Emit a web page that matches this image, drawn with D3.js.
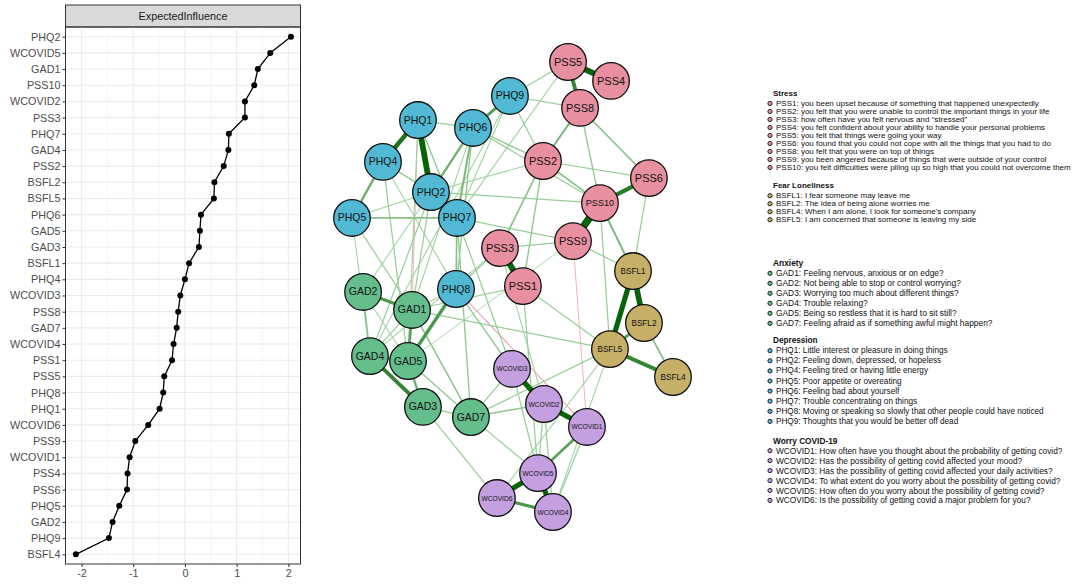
<!DOCTYPE html>
<html><head><meta charset="utf-8">
<script src="https://cdn.jsdelivr.net/npm/d3@7"></script>
<style>body{margin:0;background:#fff}svg{display:block}text{font-family:"Liberation Sans",Arial,sans-serif}</style>
</head><body><svg id="c" width="1084" height="584"></svg>
<script>
// ---------- Expected influence (left panel) ----------
const eiNodes = ["PHQ2","WCOVID5","GAD1","PSS10","WCOVID2","PSS3","PHQ7","GAD4","PSS2","BSFL2","BSFL5","PHQ6","GAD5","GAD3","BSFL1","PHQ4","WCOVID3","PSS8","GAD7","WCOVID4","PSS1","PSS5","PHQ8","PHQ1","WCOVID6","PSS9","WCOVID1","PSS4","PSS6","PHQ5","GAD2","PHQ9","BSFL4"];
const eiValues = [2.05,1.65,1.41,1.34,1.16,1.16,0.85,0.84,0.75,0.57,0.56,0.31,0.29,0.27,0.08,0.00,-0.09,-0.13,-0.16,-0.22,-0.25,-0.40,-0.42,-0.49,-0.71,-0.96,-1.07,-1.11,-1.12,-1.27,-1.40,-1.47,-2.11];
const xTicks = [-2,-1,0,1,2];
const xMinor = [-1.5,-0.5,0.5,1.5];
const stripLabel = "ExpectedInfluence";

// ---------- Network ----------
const nodeIds  = ["PSS5","PSS4","PHQ9","PSS8","PHQ1","PHQ6","PHQ4","PSS2","PSS6","PHQ2","PSS10","PHQ5","PHQ7","PSS9","PSS3","BSFL1","PSS1","PHQ8","GAD2","GAD1","BSFL2","BSFL5","GAD4","GAD5","WCOVID3","BSFL4","WCOVID2","GAD3","GAD7","WCOVID1","WCOVID5","WCOVID6","WCOVID4"];
const nodeGroup = [0,0,3,0,3,3,3,0,0,3,0,3,3,0,0,1,0,3,2,2,1,1,2,2,4,1,4,2,2,4,4,4,4];
const layoutX = [0.346,0.614,-0.016,0.421,-0.589,-0.246,-0.807,0.190,0.850,-0.508,0.545,-1.000,-0.346,0.377,-0.078,0.751,0.065,-0.352,-0.931,-0.626,0.819,0.607,-0.888,-0.651,-0.003,1.000,0.196,-0.558,-0.259,0.464,0.159,-0.097,0.252];
const layoutY = [1.000,0.916,0.849,0.796,0.742,0.707,0.556,0.560,0.484,0.422,0.373,0.307,0.307,0.204,0.173,0.071,0.004,-0.009,-0.022,-0.102,-0.160,-0.276,-0.307,-0.329,-0.364,-0.400,-0.520,-0.533,-0.578,-0.622,-0.827,-0.938,-1.000];
const edges = [
 ["PSS5","PSS4",0.34],["PSS5","PSS8",0.22],["PSS10","PSS9",0.45],["PSS10","PSS6",0.24],["PSS3","PSS1",0.36],
 ["PHQ1","PHQ2",0.34],["PHQ1","PHQ4",0.26],["BSFL1","BSFL5",0.30],["BSFL1","BSFL2",0.33],["BSFL5","BSFL4",0.22],
 ["BSFL2","BSFL5",0.16],["BSFL2","BSFL4",0.08],["WCOVID3","WCOVID2",0.30],["WCOVID2","WCOVID1",0.30],["WCOVID5","WCOVID6",0.30],
 ["WCOVID5","WCOVID4",0.30],["WCOVID6","WCOVID4",0.18],["WCOVID1","WCOVID5",0.15],["GAD2","GAD1",0.18],["GAD1","GAD5",0.15],
 ["GAD4","GAD3",0.22],["GAD5","GAD3",0.12],["GAD3","GAD7",0.06],["PHQ8","GAD5",0.18],["PHQ9","PHQ6",0.16],
 ["PHQ2","PHQ6",0.12],["PHQ7","PHQ6",0.10],["PHQ4","PHQ5",0.12],["PHQ4","PHQ2",0.06],["PSS2","PSS8",0.10],
 ["PSS10","BSFL1",0.10],["PSS6","BSFL1",0.05],["PSS8","PSS6",0.07],["PSS8","PSS10",0.06],["PHQ9","PSS8",0.05],
 ["PHQ9","PSS5",0.05],["PHQ9","PSS2",0.05],["PSS2","PSS6",0.05],["PSS2","PSS10",0.08],["PSS2","PSS3",0.08],
 ["PSS2","PSS1",0.06],["PHQ6","PSS2",0.06],["PHQ6","PSS10",0.05],["PHQ1","PHQ6",0.05],["PHQ1","PHQ7",0.06],
 ["PHQ2","PHQ7",0.08],["PHQ5","PHQ7",0.08],["PHQ5","PHQ2",0.04],["PHQ5","GAD1",0.05],["PHQ5","GAD4",0.04],
 ["PHQ2","PSS10",0.05],["PHQ2","PSS2",0.04],["PHQ7","PHQ8",0.08],["PHQ7","PSS9",0.05],["PHQ7","WCOVID3",0.05],
 ["PHQ7","GAD7",0.06],["PHQ4","GAD5",0.05],["PHQ4","PHQ8",0.04],["PHQ8","GAD1",0.05],["PHQ8","PSS3",0.05],
 ["PHQ8","WCOVID3",0.06],["PHQ8","WCOVID1",-0.04],["PHQ1","GAD1",-0.03],["PSS9","WCOVID1",-0.03],["PSS9","BSFL1",0.05],
 ["PSS9","PSS3",0.05],["PSS1","BSFL5",0.05],["GAD1","BSFL5",0.05],["BSFL5","GAD7",0.05],["BSFL5","WCOVID6",0.04],
 ["BSFL5","WCOVID4",0.04],["PSS1","WCOVID5",0.05],["GAD4","GAD2",0.07],["GAD4","GAD5",0.10],["GAD4","GAD1",0.05],
 ["GAD2","GAD5",0.04],["GAD7","GAD5",0.06],["GAD7","WCOVID2",0.07],["GAD7","WCOVID3",0.05],["GAD7","WCOVID5",0.05],
 ["GAD3","WCOVID6",0.05],["GAD1","GAD7",0.07],["GAD2","PHQ2",0.04],["WCOVID3","WCOVID5",0.05],["WCOVID2","WCOVID5",0.05],
 ["WCOVID2","WCOVID4",0.05],["WCOVID1","WCOVID4",0.05],["PHQ6","PHQ8",0.06],["PHQ2","GAD4",0.05],["PHQ2","GAD1",0.05],
 ["PHQ9","PHQ7",0.04],["PHQ9","GAD4",0.04],["PSS5","PHQ7",0.04],["PSS3","GAD4",0.04],["PSS10","BSFL5",0.05],
 ["PSS3","WCOVID2",0.04],["PHQ6","GAD1",0.04],["PSS1","GAD1",0.04],["PHQ1","GAD5",0.04],["PSS9","GAD5",0.03]
];

// ---------- Legend ----------
const groupNames = ["Stress","Fear Loneliness","Anxiety","Depression","Worry COVID-19"];
const groupColors = ["#E8909F","#C6AF66","#64BE8C","#52B9D4","#C4A0E0"];
const legendStress = ["PSS1: you been upset because of something that happened unexpectedly","PSS2: you felt that you were unable to control the important things in your life","PSS3: how often have you felt nervous and \u201cstressed\u201d","PSS4: you felt confident about your ability to handle your personal problems","PSS5: you felt that things were going your way","PSS6: you found that you could not cope with all the things that you had to do","PSS8: you felt that you were on top of things","PSS9: you been angered because of things that were outside of your control","PSS10: you felt difficulties were piling up so high that you could not overcome them"];
const legendFear = ["BSFL1: I fear someone may leave me","BSFL2: The idea of being alone worries me","BSFL4: When I am alone, I look for someone's company","BSFL5: I am concerned that someone is leaving my side"];
const legendAnxiety = ["GAD1: Feeling nervous, anxious or on edge?","GAD2: Not being able to stop or control worrying?","GAD3: Worrying too much about different things?","GAD4: Trouble relaxing?","GAD5: Being so restless that it is hard to sit still?","GAD7: Feeling afraid as if something awful might happen?"];
const legendDepression = ["PHQ1: Little interest or pleasure in doing things","PHQ2: Feeling down, depressed, or hopeless","PHQ4: Feeling tired or having little energy","PHQ5: Poor appetite or overeating","PHQ6: Feeling bad about yourself","PHQ7: Trouble concentrating on things","PHQ8: Moving or speaking so slowly that other people could have noticed","PHQ9: Thoughts that you would be better off dead"];
const legendCovid = ["WCOVID1: How often have you thought about the probability of getting covid?","WCOVID2: Has the possibility of getting covid affected your mood?","WCOVID3: Has the possibility of getting covid affected your daily activities?","WCOVID4: To what extent do you worry about the possibility of getting covid?","WCOVID5: How often do you worry about the possibility of getting covid?","WCOVID6: Is the possibility of getting covid a major problem for you?"];
const legendItems = [legendStress, legendFear, legendAnxiety, legendDepression, legendCovid];

const svg = d3.select("#c");

// ================= LEFT PANEL =================
const pL = 65.5, pR = 300.5, pT = 27, pB = 564;
const x = d3.scaleLinear().domain([-2.31, 2.235]).range([pL, pR]);
const y = d3.scalePoint().domain(eiNodes).range([pT, pB]).padding(0.6);
const gL = svg.append("g");
gL.append("rect").attr("x", pL).attr("y", 5).attr("width", pR - pL).attr("height", pT - 5)
  .attr("fill", "#d9d9d9").attr("stroke", "#333").attr("stroke-width", 1);
gL.append("text").attr("x", (pL + pR) / 2).attr("y", 16).attr("text-anchor", "middle")
  .attr("dominant-baseline", "central").attr("font-size", 10.8).attr("fill", "#1a1a1a").text(stripLabel);
gL.append("g").selectAll("line").data(xMinor).join("line")
  .attr("x1", d => x(d)).attr("x2", d => x(d)).attr("y1", pT).attr("y2", pB)
  .attr("stroke", "#f0f0f0").attr("stroke-width", 0.7);
gL.append("g").selectAll("line").data(xTicks).join("line")
  .attr("x1", d => x(d)).attr("x2", d => x(d)).attr("y1", pT).attr("y2", pB)
  .attr("stroke", "#ebebeb").attr("stroke-width", 1.1);
gL.append("g").selectAll("line").data(eiNodes).join("line")
  .attr("x1", pL).attr("x2", pR).attr("y1", d => y(d)).attr("y2", d => y(d))
  .attr("stroke", "#ebebeb").attr("stroke-width", 1.1);
const pts = eiNodes.map((n, i) => [x(eiValues[i]), y(n)]);
gL.append("path").attr("d", d3.line()(pts)).attr("fill", "none").attr("stroke", "#000").attr("stroke-width", 1.3);
gL.append("g").selectAll("circle").data(pts).join("circle")
  .attr("cx", d => d[0]).attr("cy", d => d[1]).attr("r", 3).attr("fill", "#000");
gL.append("rect").attr("x", pL).attr("y", pT).attr("width", pR - pL).attr("height", pB - pT)
  .attr("fill", "none").attr("stroke", "#333").attr("stroke-width", 1);
const ax = gL.append("g").attr("transform", `translate(0,${pB})`)
  .call(d3.axisBottom(x).tickValues(xTicks).tickSize(3).tickPadding(2).tickFormat(d3.format("d")));
const ay = gL.append("g").attr("transform", `translate(${pL},0)`)
  .call(d3.axisLeft(y).tickSize(3).tickPadding(2));
[ax, ay].forEach(a => {
  a.select(".domain").remove();
  a.selectAll(".tick line").attr("stroke", "#333").attr("stroke-width", 1);
  a.selectAll(".tick text").attr("fill", "#4d4d4d").attr("font-size", 10.8)
    .attr("font-family", '"Liberation Sans",Arial,sans-serif');
});
ax.selectAll(".tick text").text(d => d < 0 ? "-" + Math.abs(d) : d);

// ================= NETWORK =================
const nx = d3.scaleLinear().domain([-1, 1]).range([352, 673]);
const ny = d3.scaleLinear().domain([-1, 1]).range([512, 62]);
const idx = new Map(nodeIds.map((n, i) => [n, i]));
const posC = d3.scaleLinear().domain([0.03, 0.3]).range([0, 1]).clamp(true);
const posColor = t => d3.interpolateRgb("#a3d6a3", "#056405")(t);
const negColor = t => d3.interpolateRgb("#eeaab4", "#c0102a")(t);
const wScale = d3.scaleLinear().domain([0.03, 0.45]).range([0.9, 7.5]).clamp(true);
const gN = svg.append("g");
const sorted = edges.slice().sort((a, b) => Math.abs(a[2]) - Math.abs(b[2]));
gN.append("g").selectAll("line").data(sorted).join("line")
  .attr("x1", d => nx(layoutX[idx.get(d[0])])).attr("y1", d => ny(layoutY[idx.get(d[0])]))
  .attr("x2", d => nx(layoutX[idx.get(d[1])])).attr("y2", d => ny(layoutY[idx.get(d[1])]))
  .attr("stroke", d => d[2] > 0 ? posColor(posC(d[2])) : negColor(posC(-d[2])))
  .attr("stroke-width", d => wScale(Math.abs(d[2])));
const nodeG = gN.append("g").selectAll("g").data(nodeIds).join("g")
  .attr("transform", (d, i) => `translate(${nx(layoutX[i])},${ny(layoutY[i])})`);
nodeG.append("circle").attr("r", 18.3).attr("fill", (d, i) => groupColors[nodeGroup[i]])
  .attr("stroke", "#111").attr("stroke-width", 1.3);
nodeG.append("text").attr("text-anchor", "middle").attr("dominant-baseline", "central")
  .attr("font-size", 11).attr("fill", "#111").text(d => d)
  .each(function (d, i) {
    const g = nodeGroup[i];
    const W = g === 4 ? 31 : (g === 1 ? 25 : 28.5);
    const len = this.getComputedTextLength();
    this.setAttribute("font-size", Math.min(11, 11 * W / len));
  });

// ================= LEGEND =================
const headY = [93.5, 185.7, 263.3, 340.7, 440.7];
const rowStep = [8.0, 8.0, 10.0, 10.1, 9.95];
const fontSz = [8.0, 8.0, 8.4, 8.2, 8.3];
const gG = svg.append("g");
legendItems.forEach((items, g) => {
  gG.append("text").attr("x", 773).attr("y", headY[g]).attr("dominant-baseline", "central")
    .attr("font-size", fontSz[g]).attr("font-weight", "bold").attr("fill", "#111").text(groupNames[g]);
  const rows = gG.append("g").selectAll("g").data(items).join("g")
    .attr("transform", (d, i) => `translate(0,${headY[g] + 10 + i * rowStep[g]})`);
  rows.append("circle").attr("cx", 770).attr("cy", 0).attr("r", 2.1)
    .attr("fill", groupColors[g]).attr("stroke", "#222").attr("stroke-width", 1);
  rows.append("text").attr("x", 776).attr("y", 0).attr("dominant-baseline", "central")
    .attr("font-size", fontSz[g]).attr("fill", "#111").text(d => d);
});
</script></body></html>
